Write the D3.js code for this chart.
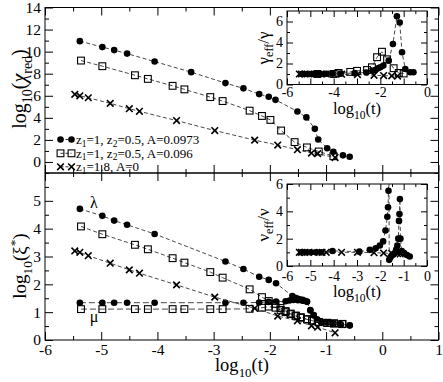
<!DOCTYPE html>
<html><head><meta charset="utf-8">
<script src="https://cdn.jsdelivr.net/npm/d3@7"></script>
<style>body{margin:0;background:#fff}svg{display:block}text{font-family:"Liberation Serif","DejaVu Serif",serif;fill:#000}</style>
</head><body><svg id="c" width="443" height="382"></svg>
<script>
// ---------- data ----------
const xTicksMain = [-6,-5,-4,-3,-2,-1,0,1];
const yTicksTop = [0,2,4,6,8,10,12,14];
const yTicksBot = [0,1,2,3,4,5];
const inset1XTicks = [-6,-4,-2,0];
const inset1YTicks = [0,2,4,6];
const inset2XTicks = [-6,-5,-4,-3,-2,-1,0];
const inset2YTicks = [0,2,4,6];

// top panel: log10(chi_red)
const chiC_x = [-5.38,-4.98,-4.77,-4.54,-4.05,-3.40,-2.79,-2.47,-2.19,-2.02,-1.90,-1.51,-1.35,-1.20,-1.14,-0.98,-0.87,-0.70,-0.58];
const chiC_y = [10.95,10.41,10.14,9.82,9.10,8.14,7.15,6.67,6.15,5.91,5.63,4.58,4.04,3.00,2.03,1.25,0.92,0.60,0.47];
const chiS_x = [-5.36,-4.98,-4.40,-4.17,-3.73,-3.52,-3.06,-2.84,-2.36,-2.14,-1.99,-1.80,-1.56,-1.34,-1.13,-0.87];
const chiS_y = [9.19,8.68,7.86,7.53,6.90,6.58,5.88,5.52,4.65,4.17,3.81,2.85,1.80,1.32,0.95,0.52];
const chiX_x = [-5.47,-5.38,-5.23,-4.84,-4.50,-4.32,-3.66,-2.98,-2.27,-1.86,-1.51,-1.26,-1.15,-0.84];
const chiX_y = [6.13,6.00,5.82,5.31,4.83,4.59,3.75,2.85,1.98,1.53,1.11,0.81,0.75,0.40];

// bottom panel: log10(xi*)
const lamC_x = [-5.38,-4.98,-4.77,-4.54,-4.05,-2.79,-2.47,-2.19,-2.02,-1.89,-1.60,-1.55,-1.51,-1.47,-1.42,-1.38,-1.34,-1.28,-1.22,-1.16,-1.09,-0.98,-0.87,-0.74,-0.58];
const lamC_y = [4.71,4.46,4.29,4.14,3.81,2.82,2.55,2.27,2.16,2.04,1.58,1.52,1.49,1.46,1.44,1.41,1.38,1.08,0.90,0.74,0.66,0.64,0.60,0.56,0.53];
const muC_x = [-5.38,-4.98,-4.77,-4.54,-4.05,-2.79,-2.47,-2.19,-2.02,-1.89,-1.72,-1.65,-1.58,-1.50,-1.42,-1.34,-1.28,-1.22,-1.16,-1.09,-0.98,-0.87,-0.74,-0.58];
const muC_y = [1.34,1.34,1.34,1.34,1.34,1.34,1.34,1.35,1.37,1.38,1.39,1.42,1.44,1.43,1.41,1.37,1.06,0.88,0.73,0.65,0.63,0.59,0.55,0.52];
const lamS_x = [-5.36,-4.98,-4.40,-4.17,-3.73,-3.52,-3.06,-2.84,-2.36,-2.14,-2.02,-1.90,-1.81,-1.72,-1.63,-1.54,-1.45,-1.34,-1.25,-1.13,-0.98,-0.86,-0.71];
const lamS_y = [4.08,3.80,3.42,3.26,2.94,2.78,2.44,2.24,1.82,1.54,1.40,1.30,1.15,1.04,0.95,0.88,0.82,0.75,0.70,0.65,0.62,0.60,0.58];
const muS_x = [-5.36,-4.98,-4.40,-4.17,-3.73,-3.52,-3.06,-2.84,-2.36,-2.14,-2.02,-1.90,-1.81,-1.72,-1.63,-1.54,-1.45,-1.34,-1.25,-1.13,-0.98,-0.86,-0.71];
const muS_y = [1.11,1.11,1.11,1.11,1.11,1.11,1.11,1.11,1.12,1.16,1.20,1.16,1.08,1.00,0.93,0.86,0.80,0.74,0.69,0.64,0.61,0.59,0.57];
const xiX_x = [-5.47,-5.38,-5.23,-4.84,-4.50,-4.32,-3.66,-2.98,-2.27,-1.86,-1.51,-1.26,-1.15,-0.84];
const xiX_y = [3.20,3.15,3.03,2.76,2.52,2.40,1.98,1.54,1.14,0.86,0.69,0.51,0.46,0.26];

// inset 1: gamma_eff/gamma
const gamC_x = [-5.36,-5.25,-5.15,-5.05,-4.92,-4.80,-4.66,-4.55,-4.30,-4.05,-3.70,-3.10,-2.60,-2.33,-2.20,-2.10,-2.00,-1.87,-1.64,-1.46,-1.29,-1.17,-1.07,-0.93,-0.72,-0.58];
const gamC_y = [1,1,1,1,1,1,1,1,1.02,1.03,1.05,1.08,1.15,1.30,1.40,1.55,1.65,1.80,2.27,3.86,6.50,5.90,3.07,1.48,1.16,1.16];
const gamS_x = [-4.70,-4.00,-3.79,-3.29,-3.00,-2.57,-2.36,-2.14,-1.93,-1.71,-1.43,-1.21,-1.00];
const gamS_y = [1.0,1.0,1.1,1.2,1.3,1.38,1.64,2.60,3.12,2.40,1.55,1.10,1.05];
const gamX_x = [-5.47,-5.38,-5.23,-4.84,-4.50,-4.32,-3.66,-2.98,-2.27,-1.86,-1.51,-1.26];
const gamX_y = [1,1,1,1,1,1,0.98,0.95,0.88,0.85,0.82,0.80];

// inset 2: nu_eff/nu
const nuC_x = [-5.38,-5.18,-4.98,-4.77,-4.54,-4.05,-2.90,-2.45,-2.20,-2.02,-1.88,-1.78,-1.70,-1.67,-1.65,-1.63,-1.62,-1.58,-1.52,-1.45,-1.38,-1.32,-1.27,-1.23,-1.20,-1.18,-1.16,-1.14,-1.08,-0.98,-0.86,-0.74];
const nuC_y = [1.0,1.0,1.0,1.0,1.0,1.1,1.05,1.18,1.30,1.50,1.80,2.60,3.60,4.30,5.50,7.50,0.45,0.60,0.75,0.85,0.95,1.20,1.50,2.00,3.30,3.80,4.90,2.00,1.10,0.95,0.80,0.70];
const nuX_x = [-5.47,-5.38,-5.23,-4.84,-4.50,-4.32,-3.66,-2.98,-2.27,-1.86,-1.51,-1.26,-1.15];
const nuX_y = [1,1,1,1,1,1,1,1,0.97,0.95,0.92,0.90,0.88];

// ---------- drawing ----------
const svg = d3.select("#c");
const xMain = d3.scaleLinear().domain([-6,1]).range([45,438.5]);
const yTop = d3.scaleLinear().domain([-1,14]).range([173,7.5]);
const yBot = d3.scaleLinear().domain([0,6]).range([340,173]);
const xIn = d3.scaleLinear().domain([-6,0]).range([287,427]);
const yIn1 = d3.scaleLinear().domain([0,7]).range([84.5,11]);
const yIn2 = d3.scaleLinear().domain([0,6]).range([266,184]);

const fmt = d => String(d);
function range(a,b,s){const r=[];for(let v=a;v<=b+1e-9;v+=s)r.push(+v.toFixed(3));return r;}

function frame(g, xs, ys, o){
  const [x0,x1]=xs.range(), [y0,y1]=ys.range();
  g.append("rect").attr("x",x0).attr("y",y1).attr("width",x1-x0).attr("height",y0-y1)
    .attr("fill",o.fill||"none").attr("stroke","#000").attr("stroke-width",1);
  const ax = (gen, tr, keepText) => {
    const a = g.append("g").attr("transform",tr).call(gen);
    a.select(".domain").remove();
    a.selectAll("line").attr("stroke","#000");
    if(!keepText) a.selectAll("text").remove();
    else a.selectAll("text").attr("font-size",o.fs).attr("fill","#000").attr("font-family","Liberation Serif");
    return a;
  };
  const L=o.major, l=o.minor;
  ax(d3.axisBottom(xs).tickValues(o.xMajor).tickSize(-L).tickPadding(o.xPad).tickFormat(fmt), `translate(0,${y0})`, o.xLabels);
  ax(d3.axisBottom(xs).tickValues(o.xMinor).tickSize(-l), `translate(0,${y0})`);
  ax(d3.axisTop(xs).tickValues(o.xMajor).tickSize(-L), `translate(0,${y1})`);
  ax(d3.axisTop(xs).tickValues(o.xMinor).tickSize(-l), `translate(0,${y1})`);
  ax(d3.axisLeft(ys).tickValues(o.yMajor).tickSize(-L).tickPadding(o.yPad).tickFormat(fmt), `translate(${x0},0)`, o.yLabels);
  ax(d3.axisLeft(ys).tickValues(o.yMinor).tickSize(-l), `translate(${x0},0)`);
  ax(d3.axisRight(ys).tickValues(o.yMajor).tickSize(-L), `translate(${x1},0)`);
  ax(d3.axisRight(ys).tickValues(o.yMinor).tickSize(-l), `translate(${x1},0)`);
}

function series(g, xs, ys, xv, yv, marker, dash){
  const pts = xv.map((x,i)=>[x,yv[i]]);
  const line = d3.line().x(d=>xs(d[0])).y(d=>ys(d[1]));
  g.append("path").attr("d",line(pts)).attr("fill","none").attr("stroke","#333")
    .attr("stroke-width",0.9).attr("stroke-dasharray",dash||"4,2.5");
  drawMarkers(g, pts.map(d=>[xs(d[0]),ys(d[1])]), marker);
}
function drawMarkers(g, pts, marker){
  const m = g.append("g");
  pts.forEach(([px,py])=>{
    if(marker==="circle") m.append("circle").attr("cx",px).attr("cy",py).attr("r",3.3).attr("fill","#000");
    else if(marker==="square") m.append("rect").attr("x",px-3.4).attr("y",py-3.4).attr("width",6.8).attr("height",6.8)
        .attr("fill","none").attr("stroke","#000").attr("stroke-width",1.1);
    else m.append("path").attr("d",`M${px-3.3},${py-3.3}L${px+3.3},${py+3.3}M${px-3.3},${py+3.3}L${px+3.3},${py-3.3}`)
        .attr("stroke","#000").attr("stroke-width",1.6);
  });
}

// main top panel
const gTop = svg.append("g");
frame(gTop, xMain, yTop, {major:8,minor:4,xMajor:xTicksMain,xMinor:range(-5.5,0.5,1),yMajor:yTicksTop,yMinor:range(-1,13,2),
  xLabels:false,yLabels:true,fs:15.5,xPad:5,yPad:4});
series(gTop,xMain,yTop,chiC_x,chiC_y,"circle");
series(gTop,xMain,yTop,chiS_x,chiS_y,"square");
series(gTop,xMain,yTop,chiX_x,chiX_y,"cross");

// main bottom panel
const gBot = svg.append("g");
frame(gBot, xMain, yBot, {major:8,minor:4,xMajor:xTicksMain,xMinor:range(-5.5,0.5,1),yMajor:yTicksBot,yMinor:range(0.5,5.5,1),
  xLabels:true,yLabels:true,fs:15.5,xPad:4,yPad:4});
series(gBot,xMain,yBot,muC_x,muC_y,"circle","6,3");
series(gBot,xMain,yBot,muS_x,muS_y,"square","6,3");
series(gBot,xMain,yBot,lamC_x,lamC_y,"circle");
series(gBot,xMain,yBot,lamS_x,lamS_y,"square");
series(gBot,xMain,yBot,xiX_x,xiX_y,"cross");

// legend
const leg = svg.append("g");
const legRows = [
  {y:139.5, m:"circle", parts:[["z",0],["1",1],["=1, z",0],["2",1],["=0.5, A=0.0973",0]]},
  {y:153.3, m:"square", parts:[["z",0],["1",1],["=1, z",0],["2",1],["=0.5, A=0.096",0]]},
  {y:166.8, m:"cross", parts:[["z",0],["1",1],["=1.8, A=0",0]]}
];
legRows.forEach(r=>{
  leg.append("line").attr("x1",60.5).attr("x2",71.5).attr("y1",r.y).attr("y2",r.y).attr("stroke","#333").attr("stroke-dasharray","3,2");
  drawMarkers(leg,[[60.5,r.y],[71.5,r.y]],r.m);
  const t = leg.append("text").attr("x",76).attr("y",r.y+4.5).attr("font-size",13);
  let sub=false;
  r.parts.forEach(([s,isSub])=>{
    const ts=t.append("tspan").text(s);
    if(isSub && !sub){ts.attr("dy",2.5).attr("font-size",9.5);sub=true;}
    else if(!isSub && sub){ts.attr("dy",-2.5);sub=false;}
  });
});

// lambda / mu labels
svg.append("text").attr("x",94).attr("y",208).attr("font-size",16).attr("text-anchor","middle").text("λ");
svg.append("text").attr("x",94).attr("y",322).attr("font-size",16).attr("text-anchor","middle").text("μ");

// axis titles
function logTitle(g, x, y, rot, fs, inner){
  const t = g.append("text").attr("font-size",fs).attr("text-anchor","middle")
    .attr("transform",`translate(${x},${y}) rotate(${rot})`);
  t.append("tspan").text("log");
  t.append("tspan").attr("dy",fs*0.3).attr("font-size",fs*0.7).text("10");
  inner(t, fs);
  return t;
}
logTitle(svg, 242, 371, 0, 18.5, (t,fs)=>{ t.append("tspan").attr("dy",-fs*0.3).text("(t)"); });
logTitle(svg, 26, 89, -90, 20, (t,fs)=>{
  t.append("tspan").attr("dy",-fs*0.3).text("(");
  t.append("tspan").attr("font-style","italic").text("χ");
  t.append("tspan").attr("dy",fs*0.3).attr("font-size",fs*0.7).text("red");
  t.append("tspan").attr("dy",-fs*0.3).text(")");
});
logTitle(svg, 26, 266, -90, 19, (t,fs)=>{
  t.append("tspan").attr("dy",-fs*0.3).text("(ξ");
  t.append("tspan").attr("dy",-fs*0.35).attr("font-size",fs*0.7).text("*");
  t.append("tspan").attr("dy",fs*0.35).text(")");
});

// inset 1
const gI1 = svg.append("g");
frame(gI1, xIn, yIn1, {fill:"#fff",major:6,minor:3,xMajor:range(-6,0,1),xMinor:range(-5.5,-0.5,1),yMajor:inset1YTicks,yMinor:[1,3,5],
  xLabels:false,yLabels:true,fs:14,xPad:3,yPad:4});
gI1.append("g").attr("transform",`translate(0,${yIn1.range()[0]})`)
  .call(d3.axisBottom(xIn).tickValues(inset1XTicks).tickSize(0).tickPadding(3).tickFormat(fmt))
  .call(a=>{a.select(".domain").remove();a.selectAll("text").attr("font-size",14).attr("font-family","Liberation Serif").attr("fill","#000");});
svg.append("clipPath").attr("id","cl1").append("rect")
  .attr("x",xIn.range()[0]).attr("y",yIn1.range()[1]).attr("width",140).attr("height",yIn1.range()[0]-yIn1.range()[1]);
const d1 = gI1.append("g").attr("clip-path","url(#cl1)");
series(d1,xIn,yIn1,gamX_x,gamX_y,"cross");
series(d1,xIn,yIn1,gamS_x,gamS_y,"square");
series(d1,xIn,yIn1,gamC_x,gamC_y,"circle");
logTitle(svg, 357, 114, 0, 16.5, (t,fs)=>{ t.append("tspan").attr("dy",-fs*0.3).text("(t)"); });
{
  const t = svg.append("text").attr("font-size",17).attr("text-anchor","middle").attr("transform","translate(269,48) rotate(-90)");
  t.append("tspan").text("γ");
  t.append("tspan").attr("dy",4).attr("font-size",12).text("eff");
  t.append("tspan").attr("dy",-4).text("/γ");
}

// inset 2
const gI2 = svg.append("g");
frame(gI2, xIn, yIn2, {fill:"#fff",major:6,minor:3,xMajor:inset2XTicks,xMinor:range(-5.5,-0.5,1),yMajor:inset2YTicks,yMinor:[1,3,5],
  xLabels:true,yLabels:true,fs:14,xPad:5,yPad:4});
svg.append("clipPath").attr("id","cl2").append("rect")
  .attr("x",xIn.range()[0]).attr("y",yIn2.range()[1]).attr("width",140).attr("height",yIn2.range()[0]-yIn2.range()[1]);
const d2 = gI2.append("g").attr("clip-path","url(#cl2)");
series(d2,xIn,yIn2,nuX_x,nuX_y,"cross");
series(d2,xIn,yIn2,nuC_x,nuC_y,"circle");
logTitle(svg, 357, 297, 0, 16.5, (t,fs)=>{ t.append("tspan").attr("dy",-fs*0.3).text("(t)"); });
{
  const t = svg.append("text").attr("font-size",17).attr("text-anchor","middle").attr("transform","translate(269,225) rotate(-90)");
  t.append("tspan").text("ν");
  t.append("tspan").attr("dy",4).attr("font-size",12).text("eff");
  t.append("tspan").attr("dy",-4).text("/ν");
}
</script></body></html>
